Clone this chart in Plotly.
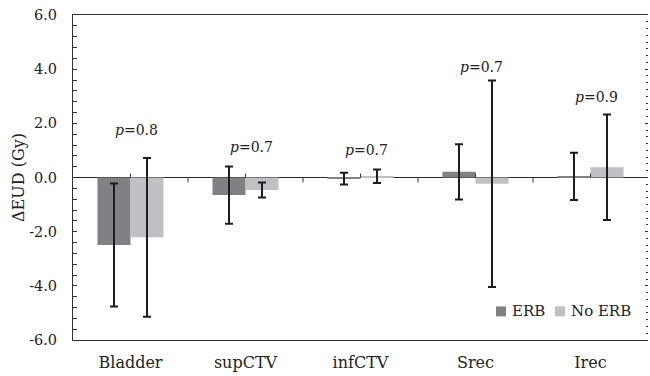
import plotly.graph_objects as go

# Structures and group statistics (ΔEUD in Gy, mean ± SD)
categories = ["Bladder", "supCTV", "infCTV", "Srec", "Irec"]
erb_mean = [-2.49, -0.65, -0.04, 0.21, 0.04]
erb_sd = [2.27, 1.06, 0.22, 1.02, 0.87]
no_erb_mean = [-2.21, -0.46, 0.05, -0.23, 0.38]
no_erb_sd = [2.93, 0.28, 0.25, 3.81, 1.95]

# p-values printed above each group, and the height they sit at
p_values = ["0.8", "0.7", "0.7", "0.7", "0.9"]
p_label_y = [1.75, 1.14, 1.02, 4.09, 2.96]

y_ticks = [-6, -4, -2, 0, 2, 4, 6]
y_tick_labels = ["-6.0", "-4.0", "-2.0", "0.0", "2.0", "4.0", "6.0"]

FONT = "DejaVu Serif"
TEXT_COLOR = "#222222"
AXIS_COLOR = "#333333"
ERR_COLOR = "#1e1c1d"
ERB_COLOR = "#808085"
NO_ERB_COLOR = "#bfc0c4"

x = list(range(len(categories)))

fig = go.Figure()
fig.add_trace(go.Bar(
    x=x, y=erb_mean, name="ERB", marker=dict(color=ERB_COLOR, line=dict(width=0)),
    error_y=dict(type="data", array=erb_sd, color=ERR_COLOR, thickness=2, width=4),
    showlegend=False,
))
fig.add_trace(go.Bar(
    x=x, y=no_erb_mean, name="No ERB", marker=dict(color=NO_ERB_COLOR, line=dict(width=0)),
    error_y=dict(type="data", array=no_erb_sd, color=ERR_COLOR, thickness=2, width=4),
    showlegend=False,
))
# empty trace so the right-hand tick column is drawn
fig.add_trace(go.Scatter(x=[], y=[], yaxis="y2", showlegend=False, hoverinfo="skip"))

# p-value labels
for i, (p, yy) in enumerate(zip(p_values, p_label_y)):
    fig.add_annotation(
        x=i, y=yy, text="<i>p</i>=" + p, showarrow=False, xshift=6,
        font=dict(family=FONT, size=14, color=TEXT_COLOR),
    )

# category tick marks on the zero line: separators below, centre marks above
shapes = []
for k in range(len(categories) - 1):
    shapes.append(dict(type="line", xref="x", yref="y", x0=k + 0.5, x1=k + 0.5,
                       ysizemode="pixel", yanchor=0, y0=0, y1=-5,
                       line=dict(color=AXIS_COLOR, width=1)))
for k in range(len(categories)):
    shapes.append(dict(type="line", xref="x", yref="y", x0=k, x1=k,
                       ysizemode="pixel", yanchor=0, y0=0, y1=4,
                       line=dict(color=AXIS_COLOR, width=1)))

# legend: square swatch followed by its label, bottom right of the plot
legend_items = [("ERB", ERB_COLOR, 0.7357), ("No ERB", NO_ERB_COLOR, 0.8383)]
for label, color, lx in legend_items:
    shapes.append(dict(type="rect", xref="paper", yref="paper",
                       xsizemode="pixel", ysizemode="pixel", xanchor=lx, yanchor=0.088,
                       x0=0, x1=10, y0=-5, y1=5,
                       fillcolor=color, line=dict(width=0)))
    fig.add_annotation(
        xref="paper", yref="paper", x=lx, y=0.088, xshift=14,
        xanchor="left", yanchor="middle", text=label, showarrow=False,
        font=dict(family=FONT, size=15, color=TEXT_COLOR),
    )
fig.update_layout(shapes=shapes)

fig.update_layout(
    width=650, height=376,
    margin=dict(l=73, r=2, t=15, b=36),
    paper_bgcolor="white", plot_bgcolor="white",
    font=dict(family=FONT, size=14, color=TEXT_COLOR),
    barmode="group", bargap=0.426, bargroupgap=0,
    showlegend=False,
    xaxis=dict(
        range=[-0.5, 4.5], tickvals=x, ticktext=categories, ticks="",
        showline=True, mirror=True, linecolor=AXIS_COLOR, linewidth=1,
        showgrid=False, zeroline=False, ticklabelstandoff=8,
        tickfont=dict(family=FONT, size=16, color=TEXT_COLOR),
    ),
    yaxis=dict(
        range=[-6, 6], tickvals=y_ticks, ticktext=y_tick_labels,
        ticks="inside", ticklen=4, tickcolor=AXIS_COLOR,
        minor=dict(dtick=0.4, tick0=-6, ticks="inside", ticklen=4, tickcolor=AXIS_COLOR),
        showline=True, linecolor=AXIS_COLOR, linewidth=1,
        showgrid=False, zeroline=True, zerolinecolor="#2a2a2a", zerolinewidth=1,
        ticklabelstandoff=12,
        title=dict(text="ΔEUD (Gy)", standoff=0, font=dict(family=FONT, size=16)),
        tickfont=dict(family=FONT, size=14.5, color=TEXT_COLOR),
    ),
    yaxis2=dict(
        overlaying="y", side="right", range=[-6, 6], dtick=2, tick0=-6,
        showticklabels=False, ticks="inside", ticklen=3, tickcolor=AXIS_COLOR,
        minor=dict(dtick=0.25, tick0=-6, ticks="inside", ticklen=2, tickcolor=AXIS_COLOR),
        showline=False, showgrid=False, zeroline=False,
    ),
)

fig.write_html("out.html")
